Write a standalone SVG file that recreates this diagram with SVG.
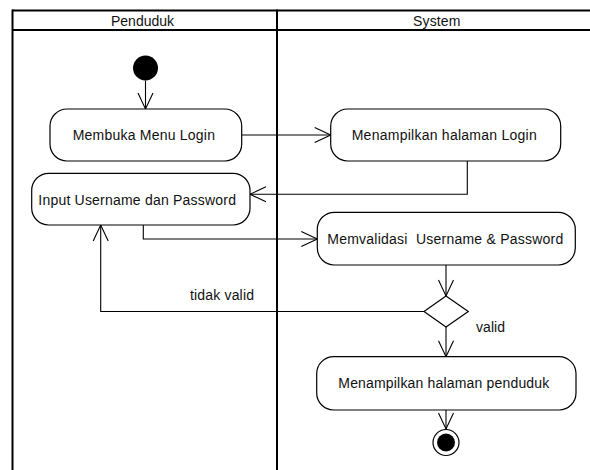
<svg xmlns="http://www.w3.org/2000/svg" width="590" height="470" viewBox="0 0 590 470">
  <style>
    .lane { stroke: #000; stroke-width: 2; fill: none; }
    .act { fill: #fff; stroke: #000; stroke-width: 1.2; }
    .edge { fill: none; stroke: #000; stroke-width: 1.1; marker-end: url(#open); }
    .txt { font-family: "Liberation Sans", Arial, sans-serif; font-size: 14px; fill: #111; }
  </style>
  <defs>
    <marker id="open" viewBox="-18 -10 20 20" refX="0" refY="0" markerWidth="20" markerHeight="20" markerUnits="userSpaceOnUse" orient="auto">
      <path d="M-16,-7.5 L0,0 L-16,7.5" fill="none" stroke="#000" stroke-width="1.1"/>
    </marker>
  </defs>
  <rect width="590" height="470" fill="#fff"/>

  <!-- swimlanes -->
  <g id="lanes">
    <line class="lane" x1="12" y1="10.5" x2="590" y2="10.5"/>
    <line class="lane" x1="12" y1="30" x2="590" y2="30"/>
    <line class="lane" x1="12.5" y1="9.5" x2="12.5" y2="470"/>
    <line class="lane" x1="277" y1="9.5" x2="277" y2="470"/>
    <text class="txt" x="111" y="25.5" textLength="63" lengthAdjust="spacing">Penduduk</text>
    <text class="txt" x="413" y="25.5" textLength="47.5" lengthAdjust="spacing">System</text>
  </g>

  <!-- connectors -->
  <g id="connectors">
    <path class="edge" d="M145.5,80.5 V109"/>
    <path class="edge" d="M241.7,135 H330.7"/>
    <path class="edge" d="M467.3,161 V194.3 H250"/>
    <path class="edge" d="M143.3,225 V239 H317.3"/>
    <path class="edge" d="M446,265 V296"/>
    <path class="edge" d="M424,311.5 H100.7 V225"/>
    <path class="edge" d="M446,327 V356.7"/>
    <path class="edge" d="M446,410 V429"/>
    <text class="txt" x="190" y="300" textLength="64" lengthAdjust="spacing">tidak valid</text>
    <text class="txt" x="476" y="332" textLength="29" lengthAdjust="spacing">valid</text>
  </g>

  <g id="start">
    <circle cx="145.5" cy="68" r="12.5" fill="#000"/>
  </g>

  <g id="membuka-menu-login">
    <rect class="act" x="50" y="109" width="191.7" height="52" rx="17"/>
    <text class="txt" x="72.7" y="140" textLength="142.3" lengthAdjust="spacing">Membuka Menu Login</text>
  </g>

  <g id="menampilkan-halaman-login">
    <rect class="act" x="330.7" y="109" width="230" height="52" rx="17"/>
    <text class="txt" x="351.7" y="140" textLength="185" lengthAdjust="spacing">Menampilkan halaman Login</text>
  </g>

  <g id="input-username-password">
    <rect class="act" x="31.7" y="173.3" width="218.3" height="51.7" rx="17"/>
    <text class="txt" x="38.3" y="204.5" textLength="197.7" lengthAdjust="spacing">Input Username dan Password</text>
  </g>

  <g id="memvalidasi">
    <rect class="act" x="317.3" y="212.3" width="258" height="52.7" rx="17"/>
    <text class="txt" x="327.3" y="244" textLength="236" lengthAdjust="spacing" xml:space="preserve">Memvalidasi  Username &amp; Password</text>
  </g>

  <g id="decision">
    <polygon class="act" points="446,296 468.3,311.5 446,327 424,311.5"/>
  </g>

  <g id="menampilkan-halaman-penduduk">
    <rect class="act" x="316.7" y="356.7" width="259.3" height="53.3" rx="17"/>
    <text class="txt" x="338.3" y="387.5" textLength="211" lengthAdjust="spacing">Menampilkan halaman penduduk</text>
  </g>

  <g id="end">
    <circle cx="446" cy="442.5" r="13" fill="#fff" stroke="#000" stroke-width="1.2"/>
    <circle cx="446" cy="442.5" r="9" fill="#000"/>
  </g>
</svg>
